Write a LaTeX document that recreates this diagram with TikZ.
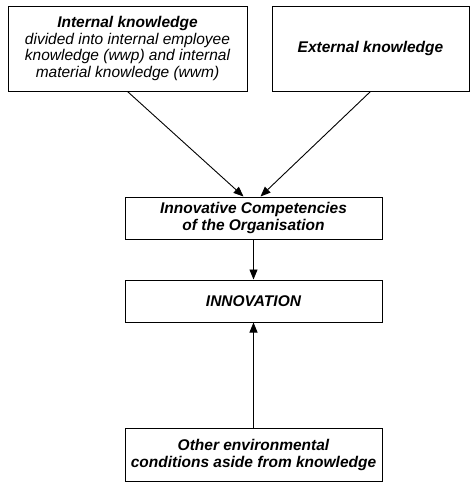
\documentclass[tikz,border=0pt]{standalone}
\usepackage{fontspec}
\setmainfont{Liberation Sans}
\usetikzlibrary{arrows.meta,calc}
\tikzset{
  box/.style={draw=black, line width=1pt, rectangle, inner sep=0pt, align=center,
    font=\fontsize{15.5}{16.5}\selectfont\itshape},
  bbox/.style={box, font=\fontsize{15.5}{17}\selectfont\bfseries\itshape},
  conn/.style={line width=0.9pt, -{Triangle[length=10pt,width=8pt]}}
}
\begin{document}
\begin{tikzpicture}[x=1pt,y=-1pt]
\useasboundingbox (0,0) rectangle (470,483);
\node[box, minimum width=239pt, minimum height=85pt] (lk) at (127.5,48.5)
  {\textbf{Internal knowledge}\\divided into internal employee\\knowledge (wwp) and internal\\material knowledge (wwm)};
\node[bbox, minimum width=197pt, minimum height=85pt] (rk) at (370.5,48.5)
  {External knowledge};
\node[bbox, minimum width=257pt, minimum height=42pt] (ic) at (253.5,218)
  {Innovative Competencies\\of the Organisation};
\node[bbox, minimum width=257pt, minimum height=42pt] (inn) at (253.5,301)
  {INNOVATION};
\node[bbox, minimum width=257pt, minimum height=53pt] (ob) at (253.5,454.5)
  {Other environmental\\conditions aside from knowledge};
\coordinate (ta) at ($(ic.north)+(-10,0)$);
\coordinate (tb) at ($(ic.north)+(7,0)$);
\draw[conn] (lk.south) -- (ta);
\draw[conn] (rk.south) -- (tb);
\draw[conn] (ic.south) -- (inn.north);
\draw[conn] (ob.north) -- (inn.south);
\end{tikzpicture}
\end{document}
